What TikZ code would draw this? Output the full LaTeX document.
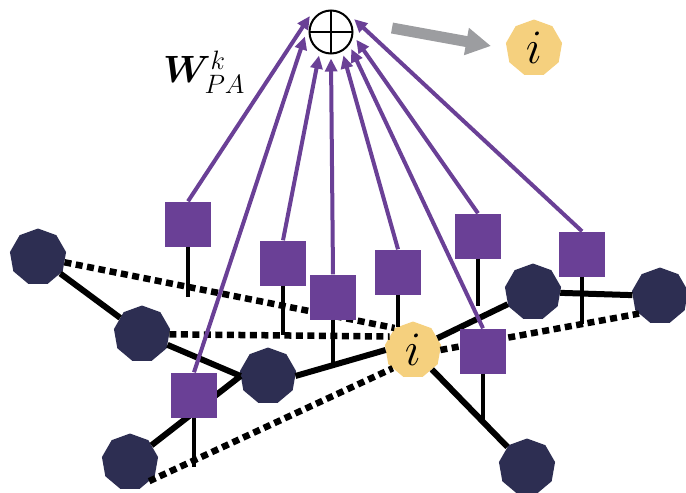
\RequirePackage{fix-cm}
\documentclass[tikz,border=0pt]{standalone}
\usepackage{amsmath,amssymb,bm}
\usetikzlibrary{arrows.meta,shapes.geometric}
\definecolor{navy}{HTML}{2D2E52}
\definecolor{gold}{HTML}{F5D07E}
\definecolor{plum}{HTML}{6A4096}
\definecolor{ash}{HTML}{9C9DA0}
\tikzset{
  vnode/.style={regular polygon,regular polygon sides=9,fill=navy,minimum size=57pt,inner sep=0pt},
  cnode/.style={regular polygon,regular polygon sides=9,fill=gold,minimum size=57pt,inner sep=0pt,font=\fontsize{48}{48}\selectfont},
  feat/.style={rectangle,fill=plum,minimum width=46pt,minimum height=45pt,inner sep=0pt},
  link/.style={line width=6pt,black},
  latent/.style={line width=6.5pt,black,dash pattern=on 7pt off 4.5pt},
  stem/.style={line width=3.8pt,black},
  msg/.style={line width=4pt,plum,-{Triangle[length=13pt,width=12pt]}},
  summer/.style={circle,draw,line width=2pt,minimum size=43pt,inner sep=0pt,outer sep=5pt,
    path picture={\draw[line width=1.6pt]
      (path picture bounding box.north) -- (path picture bounding box.south)
      (path picture bounding box.west) -- (path picture bounding box.east);}}
}
\begin{document}
\begin{tikzpicture}[x=1pt,y=-1pt]
\useasboundingbox (0,0) rectangle (686,493);

% graph vertices
\node[vnode] (A) at (38,257) {};
\node[vnode] (B) at (142,334) {};
\node[vnode] (C) at (268,376) {};
\node[vnode] (D) at (130,462) {};
\node[vnode] (E) at (533,292) {};
\node[vnode] (F) at (660,296) {};
\node[vnode] (G) at (527,467) {};
\node[cnode] (i) at (413,350) {$i$};

% observed edges
\draw[link] (A) -- (B);
\draw[link] (B) -- (C.west);
\draw[link] (C.west) -- (D);
\draw[link] (C.east) -- (i.west);
\draw[link] (i) -- (E);
\draw[link] (E) -- (F);
\draw[link] (i) -- (G);

% latent edges
\draw[latent] (A) -- (i.130);
\draw[latent] (B) -- (i.150);
\draw[latent] (D.-45) -- (i.222);
\draw[latent] (i.east) -- (F.220);

% edge features
\node[feat] (S1) at (188,224) {};
\node[feat] (S2) at (283,263) {};
\node[feat] (S3) at (333,297) {};
\node[feat] (S4) at (398,272) {};
\node[feat] (S5) at (478,236) {};
\node[feat] (S6) at (582,254) {};
\node[feat] (S7) at (483,351) {};
\node[feat] (S8) at (194,395) {};

\coordinate (e1) at (188,297);
\coordinate (e2) at (283,335);
\coordinate (e3) at (333,368);
\coordinate (e4) at (398,327);
\coordinate (e5) at (478,306);
\coordinate (e6) at (582,324);
\coordinate (e7) at (483,421);
\coordinate (e8) at (194,467);
\foreach \k in {1,...,8} \draw[stem] (S\k.south) -- (e\k);

% aggregation
\node[summer] (sum) at (331,32) {};
\draw[msg] (S1.north) -- (sum.143);
\draw[msg] (S8.north) -- (sum.190);
\draw[msg] (S2.north) -- (sum.243);
\draw[msg] (S3.north) -- (sum.270);
\draw[msg] (S4.north) -- (sum.298);
\draw[msg] (S7.north) -- (sum.320);
\draw[msg] (S5.north) -- (sum.343);
\draw[msg] (S6.north) -- (sum.29);

\node[font=\fontsize{38}{42}\selectfont] (W) at (204,72) {$\bm{W}^{k}_{PA}$};

% updated vertex
\coordinate (g0) at (392,28);
\coordinate (g1) at (491,46);
\draw[ash,line width=11pt,-{Triangle[length=25pt,width=26pt]}] (g0) -- (g1);
\node[cnode] (iout) at (534,48) {$i$};
\end{tikzpicture}
\end{document}
